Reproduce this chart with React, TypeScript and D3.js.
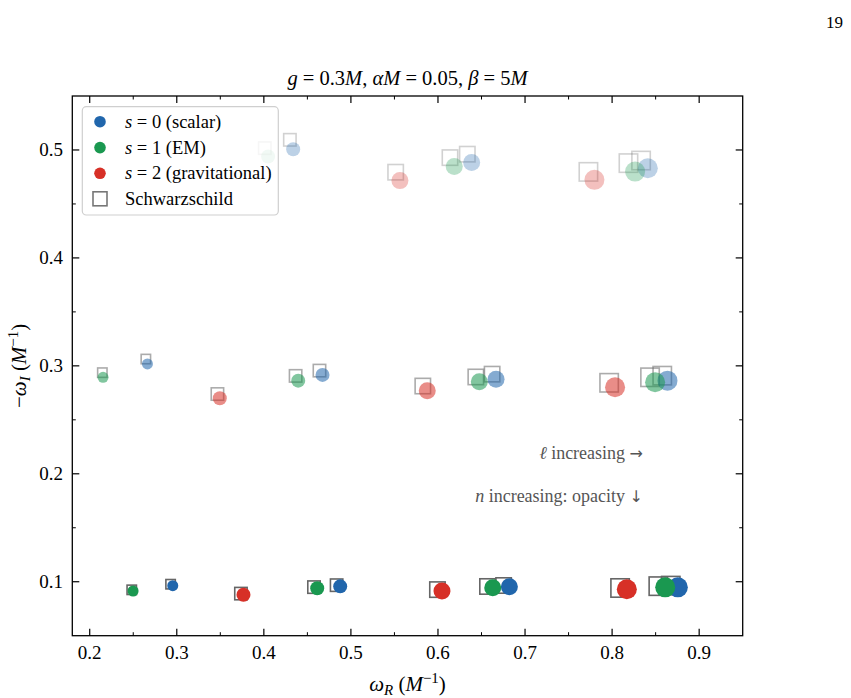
import React from 'react';
import * as d3 from 'd3';

// Quasinormal modes: spin s, multipole ℓ, overtone n, and ω = ω_R − i ω_I
const modeSpin = [0, 0, 0, 0, 1, 1, 1, 1, 2, 2, 2, 0, 0, 0, 0, 1, 1, 1, 1, 2, 2, 2, 0, 0, 0, 1, 1, 1, 2, 2];
const modeEll = [1, 2, 3, 4, 1, 2, 3, 4, 2, 3, 4, 1, 2, 3, 4, 1, 2, 3, 4, 2, 3, 4, 2, 3, 4, 2, 3, 4, 3, 4];
const modeOvertone = [0, 0, 0, 0, 0, 0, 0, 0, 0, 0, 0, 1, 1, 1, 1, 1, 1, 1, 1, 1, 1, 1, 2, 2, 2, 2, 2, 2, 2, 2];
const omegaRe = [
  0.2954, 0.4877, 0.682, 0.8755, 0.2498, 0.4613, 0.6629, 0.861, 0.3766, 0.6046, 0.8169,
  0.2663, 0.4674, 0.6667, 0.8636, 0.2153, 0.4395, 0.6475, 0.8494, 0.3494, 0.5877, 0.8034,
  0.4337, 0.6387, 0.841, 0.4049, 0.6187, 0.8264, 0.5563, 0.7797,
];
const omegaIm = [
  0.0963, 0.0957, 0.0954, 0.0948, 0.0914, 0.0939, 0.0944, 0.0948, 0.088, 0.0914, 0.093,
  0.3018, 0.2916, 0.2876, 0.2863, 0.2894, 0.2863, 0.2853, 0.2848, 0.27, 0.277, 0.2802,
  0.5007, 0.4883, 0.4831, 0.4939, 0.4846, 0.48, 0.4716, 0.4723,
];
// Schwarzschild reference values for the same modes
const schwRe = [
  0.2929, 0.4836, 0.6754, 0.8674, 0.2483, 0.4576, 0.6569, 0.8531, 0.3737, 0.5994, 0.8092,
  0.2645, 0.4639, 0.6622, 0.8576, 0.2145, 0.4365, 0.6435, 0.8436, 0.3467, 0.5826, 0.7966,
  0.4299, 0.6337, 0.8333, 0.4011, 0.6138, 0.8188, 0.5514, 0.7728,
];
const schwIm = [
  0.0977, 0.0968, 0.0965, 0.0964, 0.0925, 0.095, 0.0956, 0.0959, 0.089, 0.0927, 0.0942,
  0.3063, 0.2956, 0.2923, 0.2909, 0.2937, 0.2907, 0.2897, 0.2894, 0.2739, 0.2813, 0.2843,
  0.5094, 0.4961, 0.4902, 0.5017, 0.4929, 0.4878, 0.4794, 0.4797,
];

const spinLabels = ['0 (scalar)', '1 (EM)', '2 (gravitational)'];
const xTicks = [0.2, 0.3, 0.4, 0.5, 0.6, 0.7, 0.8, 0.9];
const xMinorTicks = [0.25, 0.35, 0.45, 0.55, 0.65, 0.75, 0.85];
const yTicks = [0.1, 0.2, 0.3, 0.4, 0.5];
const yMinorTicks = [0.15, 0.25, 0.35, 0.45];

const W = 851;
const H = 698;
const L = 72.3;
const R = 742.7;
const T = 96;
const B = 635.7;
const FONT = "'Liberation Serif', 'DejaVu Serif', serif";
const ARROW_FONT = "'DejaVu Sans', sans-serif";
const spinColors = ['#2166ac', '#1a9850', '#d73027'];
const overtoneAlpha = [1, 0.55, 0.3];
const squareColor = '#666';

const x = d3.scaleLinear().domain([0.18, 0.95]).range([L, R]);
const y = d3.scaleLinear().domain([0.05, 0.55]).range([B, T]);
const markerSize = d3.scaleLinear().domain([1, 4]).range([11, 20]);

const modes = d3.range(modeSpin.length).map((i) => ({
  s: modeSpin[i],
  l: modeEll[i],
  n: modeOvertone[i],
  re: omegaRe[i],
  im: omegaIm[i],
  sre: schwRe[i],
  sim: schwIm[i],
}));
const circlesInOrder = d3.sort(modes, (a, b) => a.s - b.s || a.n - b.n || a.l - b.l);

export default function App() {
  const major = 7;
  const minor = 3.5;
  const legX = 82.3;
  const legY = 106.7;
  const rowY = [121.7, 147.6, 173.3, 198.8];

  return (
    <svg
      width={W}
      height={H}
      viewBox={`0 0 ${W} ${H}`}
      style={{ position: 'absolute', left: 0, top: 0, background: '#fff' }}
      fontFamily={FONT}
    >
      <rect x={0} y={0} width={W} height={H} fill="#fff" />
      <text x={843} y={28} fontSize={17} textAnchor="end" fill="#000">19</text>

      <defs>
        <clipPath id="plotArea">
          <rect x={L} y={T} width={R - L} height={B - T} />
        </clipPath>
      </defs>

      <g clipPath="url(#plotArea)">
        {modes.map((m, i) => {
          const side = markerSize(m.l) - 1.6;
          return (
            <rect
              key={`sq${i}`}
              x={x(m.sre) - side / 2}
              y={y(m.sim) - side / 2}
              width={side}
              height={side}
              fill="none"
              stroke={squareColor}
              strokeWidth={1.6}
              strokeOpacity={overtoneAlpha[m.n]}
            />
          );
        })}
        {circlesInOrder.map((m, i) => (
          <circle
            key={`c${i}`}
            cx={x(m.re)}
            cy={y(m.im)}
            r={markerSize(m.l) / 2}
            fill={spinColors[m.s]}
            fillOpacity={overtoneAlpha[m.n]}
          />
        ))}
      </g>

      {/* annotations */}
      <text x={643} y={459} fontSize={18} textAnchor="end" fill="#555">
        <tspan fontStyle="italic">ℓ</tspan> increasing <tspan fontFamily={ARROW_FONT} fontSize={16}>→</tspan>
      </text>
      <text x={643} y={502} fontSize={18} textAnchor="end" fill="#555">
        <tspan fontStyle="italic">n</tspan> increasing: opacity <tspan fontFamily={ARROW_FONT} fontSize={16}>↓</tspan>
      </text>

      {/* frame */}
      <rect x={L} y={T} width={R - L} height={B - T} fill="none" stroke="#000" strokeWidth={1.3} />

      {/* x ticks, inward on bottom and top */}
      {xTicks.map((v) => (
        <g key={`xt${v}`}>
          <line x1={x(v)} x2={x(v)} y1={B} y2={B - major} stroke="#000" strokeWidth={1.2} />
          <line x1={x(v)} x2={x(v)} y1={T} y2={T + major} stroke="#000" strokeWidth={1.2} />
          <text x={x(v)} y={659} fontSize={19} textAnchor="middle">{d3.format('.1f')(v)}</text>
        </g>
      ))}
      {xMinorTicks.map((v) => (
        <g key={`xm${v}`}>
          <line x1={x(v)} x2={x(v)} y1={B} y2={B - minor} stroke="#000" strokeWidth={1} />
          <line x1={x(v)} x2={x(v)} y1={T} y2={T + minor} stroke="#000" strokeWidth={1} />
        </g>
      ))}
      {yTicks.map((v) => (
        <g key={`yt${v}`}>
          <line x1={L} x2={L + major} y1={y(v)} y2={y(v)} stroke="#000" strokeWidth={1.2} />
          <line x1={R} x2={R - major} y1={y(v)} y2={y(v)} stroke="#000" strokeWidth={1.2} />
          <text x={63} y={y(v) + 6.5} fontSize={19} textAnchor="end">{d3.format('.1f')(v)}</text>
        </g>
      ))}
      {yMinorTicks.map((v) => (
        <g key={`ym${v}`}>
          <line x1={L} x2={L + minor} y1={y(v)} y2={y(v)} stroke="#000" strokeWidth={1} />
          <line x1={R} x2={R - minor} y1={y(v)} y2={y(v)} stroke="#000" strokeWidth={1} />
        </g>
      ))}

      {/* axis labels */}
      <text x={(L + R) / 2} y={691} fontSize={21} textAnchor="middle">
        <tspan fontStyle="italic">ω</tspan>
        <tspan fontStyle="italic" fontSize={15} dy={4}>R</tspan>
        <tspan dy={-4}> (</tspan>
        <tspan fontStyle="italic">M</tspan>
        <tspan fontSize={15} dy={-8}>−1</tspan>
        <tspan dy={8}>)</tspan>
      </text>
      <text transform={`translate(26, ${(T + B) / 2}) rotate(-90)`} fontSize={21} textAnchor="middle">
        <tspan>−</tspan>
        <tspan fontStyle="italic">ω</tspan>
        <tspan fontStyle="italic" fontSize={15} dy={4}>I</tspan>
        <tspan dy={-4}> (</tspan>
        <tspan fontStyle="italic">M</tspan>
        <tspan fontSize={15} dy={-8}>−1</tspan>
        <tspan dy={8}>)</tspan>
      </text>

      {/* title */}
      <text x={(L + R) / 2} y={85} fontSize={20.5} textAnchor="middle">
        <tspan fontStyle="italic">g</tspan>
        <tspan> = 0.3</tspan>
        <tspan fontStyle="italic">M</tspan>
        <tspan>, </tspan>
        <tspan fontStyle="italic">αM</tspan>
        <tspan> = 0.05, </tspan>
        <tspan fontStyle="italic">β</tspan>
        <tspan> = 5</tspan>
        <tspan fontStyle="italic">M</tspan>
      </text>

      {/* legend */}
      <rect
        x={legX}
        y={legY}
        width={196}
        height={108.3}
        rx={4}
        fill="#fff"
        fillOpacity={0.8}
        stroke="#cfcfcf"
        strokeWidth={1.2}
      />
      {spinLabels.map((lab, i) => (
        <g key={`lg${i}`}>
          <circle cx={100} cy={rowY[i]} r={5.8} fill={spinColors[i]} />
          <text x={125} y={rowY[i] + 6} fontSize={18.5}>
            <tspan fontStyle="italic">s</tspan>
            <tspan> = {lab}</tspan>
          </text>
        </g>
      ))}
      <rect x={93} y={rowY[3] - 7} width={14} height={14} fill="none" stroke="#777" strokeWidth={1.6} />
      <text x={125} y={rowY[3] + 6} fontSize={18.5}>Schwarzschild</text>
    </svg>
  );
}
